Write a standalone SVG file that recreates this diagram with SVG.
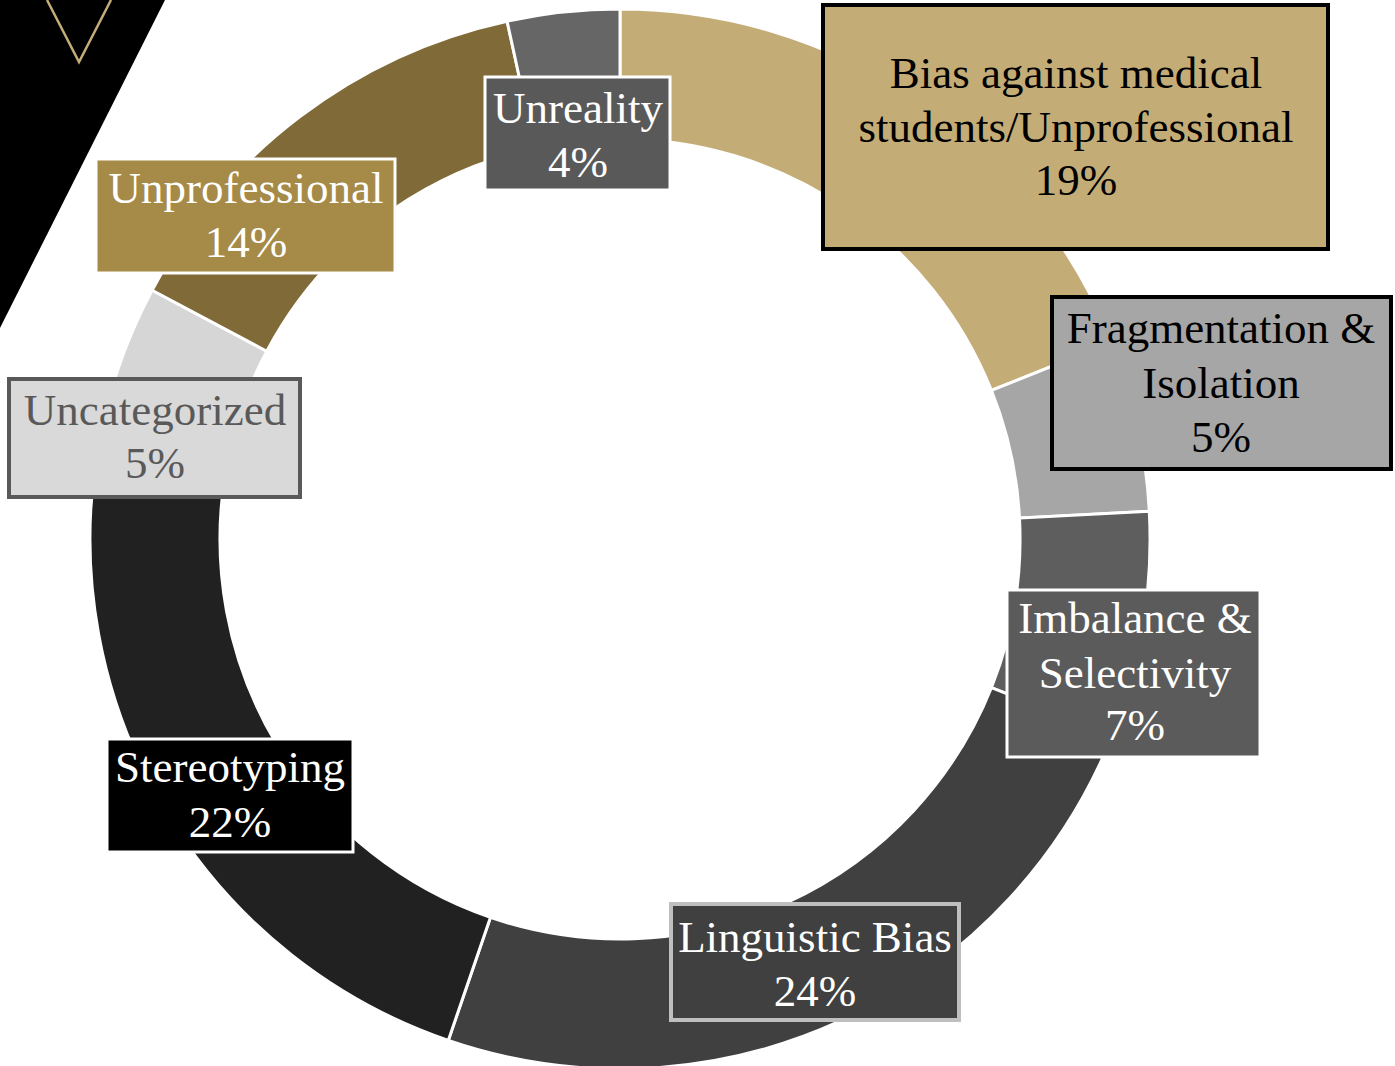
<svg xmlns="http://www.w3.org/2000/svg" width="1395" height="1066" viewBox="0 0 1395 1066">
<style>
.seg{stroke:#FFFFFF;stroke-width:3;stroke-linejoin:miter}
.lbl{font-family:"Liberation Serif","Times New Roman",serif;font-size:45px;text-anchor:middle}
.w{fill:#FFFFFF}
.k{fill:#000000}
</style>
<rect width="1395" height="1066" fill="#FFFFFF"/>
<g id="corner">
<polygon points="0,0 165,0 0,328" fill="#000000"/>
<polyline points="47,0 79,62 111,0" fill="none" stroke="#C4AC76" stroke-width="2.5"/>
</g>
<g id="ring">
<path class="seg" fill="#C4AC76" d="M620,9 A530,530 0 0 1 1112.1,342.2 L991.4,390.4 A400,400 0 0 0 620,139 Z"/>
<path class="seg" fill="#A6A6A6" d="M1112.1,342.2 A530,530 0 0 1 1149.3,511.3 L1019.5,518.1 A400,400 0 0 0 991.4,390.4 Z"/>
<path class="seg" fill="#5E5E5E" d="M1149.3,511.3 A530,530 0 0 1 1112.1,735.8 L991.4,687.6 A400,400 0 0 0 1019.5,518.1 Z"/>
<path class="seg" fill="#404040" d="M1112.1,735.8 A530,530 0 0 1 448.3,1040.4 L490.4,917.4 A400,400 0 0 0 991.4,687.6 Z"/>
<path class="seg" fill="#212121" d="M448.3,1040.4 A530,530 0 0 1 96.5,456.1 L224.9,476.4 A400,400 0 0 0 490.4,917.4 Z"/>
<path class="seg" fill="#D6D6D6" d="M96.5,456.1 A530,530 0 0 1 152.1,290.2 L266.8,351.2 A400,400 0 0 0 224.9,476.4 Z"/>
<path class="seg" fill="#806A38" d="M152.1,290.2 A530,530 0 0 1 507.1,21.2 L534.8,148.2 A400,400 0 0 0 266.8,351.2 Z"/>
<path class="seg" fill="#666666" d="M507.1,21.2 A530,530 0 0 1 620,9 L620,139 A400,400 0 0 0 534.8,148.2 Z"/>
</g>
<g id="bias">
<rect x="823" y="5" width="505" height="244" fill="#C4AC76" stroke="#000000" stroke-width="4"/>
<text class="lbl k" x="1076" y="88">Bias against medical</text>
<text class="lbl k" x="1076" y="142">students/Unprofessional</text>
<text class="lbl k" x="1076" y="195">19%</text>
</g>
<g id="fragmentation">
<rect x="1052" y="297" width="339" height="172" fill="#A6A6A6" stroke="#000000" stroke-width="4"/>
<text class="lbl k" x="1221" y="343">Fragmentation &amp;</text>
<text class="lbl k" x="1221" y="398">Isolation</text>
<text class="lbl k" x="1221" y="452">5%</text>
</g>
<g id="imbalance">
<rect x="1007" y="590" width="253" height="167" fill="#5B5B5B" stroke="#FFFFFF" stroke-width="3"/>
<text class="lbl w" x="1135" y="633">Imbalance &amp;</text>
<text class="lbl w" x="1135" y="688">Selectivity</text>
<text class="lbl w" x="1135" y="740">7%</text>
</g>
<g id="linguistic">
<rect x="671" y="904" width="288" height="116" fill="#404040" stroke="#BFBFBF" stroke-width="4"/>
<text class="lbl w" x="815" y="952">Linguistic Bias</text>
<text class="lbl w" x="815" y="1006">24%</text>
</g>
<g id="stereotyping">
<rect x="107" y="739" width="246" height="113" fill="#000000" stroke="#FFFFFF" stroke-width="3"/>
<text class="lbl w" x="230" y="782">Stereotyping</text>
<text class="lbl w" x="230" y="837">22%</text>
</g>
<g id="uncategorized">
<rect x="9" y="379" width="291" height="118" fill="#D9D9D9" stroke="#595959" stroke-width="4"/>
<text class="lbl" fill="#595959" x="155" y="425">Uncategorized</text>
<text class="lbl" fill="#595959" x="155" y="478">5%</text>
</g>
<g id="unprofessional">
<rect x="96" y="159" width="299" height="114" fill="#A68A48" stroke="#FFFFFF" stroke-width="3"/>
<text class="lbl w" x="246" y="203">Unprofessional</text>
<text class="lbl w" x="246" y="257">14%</text>
</g>
<g id="unreality">
<rect x="485" y="77" width="185" height="113" fill="#595959" stroke="#FFFFFF" stroke-width="3"/>
<text class="lbl w" x="578" y="123">Unreality</text>
<text class="lbl w" x="578" y="177">4%</text>
</g>
<g id="connectors"></g>
</svg>
